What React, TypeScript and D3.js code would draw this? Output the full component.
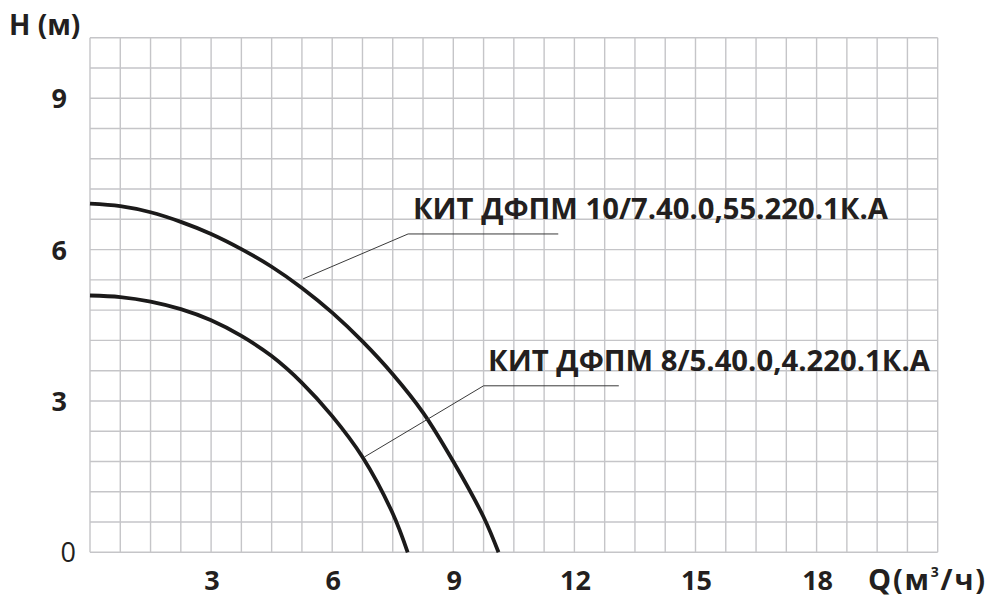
import { useEffect, useRef } from "react"
import * as d3 from "d3"

// Q (m3/h) and H (m)
const curveBigQ = [0, 0.75, 1.5, 2.25, 3, 3.75, 4.5, 5.25, 6, 6.75, 7.5, 8.25, 9, 9.75, 10.12]
const curveBigH = [6.91, 6.86, 6.74, 6.55, 6.31, 6.01, 5.66, 5.24, 4.75, 4.18, 3.53, 2.77, 1.8, 0.7, 0]
const curveSmallQ = [0, 0.75, 1.5, 2.25, 3, 3.75, 4.5, 5.25, 6, 6.75, 7.5, 7.87]
const curveSmallH = [5.09, 5.06, 4.97, 4.82, 4.6, 4.29, 3.89, 3.36, 2.7, 1.89, 0.77, 0]

const labelNames = ["КИТ ДФПМ 10/7.40.0,55.220.1К.А", "КИТ ДФПМ 8/5.40.0,4.220.1К.А"]
// leader line points: on the curve, bend, end of shelf
const leaderQ = [[5.28, 7.88, 11.6], [6.8, 9.75, 13.1]]
const leaderH = [[5.42, 6.31, 6.31], [1.89, 3.3, 3.3]]

const xTicks = [3, 6, 9, 12, 15, 18]
const yTicks = [0, 3, 6, 9]

const App = () => {
  const svgRef = useRef<SVGSVGElement>(null)

  useEffect(() => {
    const width = 991
    const height = 597
    const margin = { top: 37.7, right: 53.3, bottom: 44.7, left: 90 }

    const svg = d3.select(svgRef.current)
    svg.selectAll("*").remove()

    const x = d3.scaleLinear().domain([0, 21]).range([margin.left, width - margin.right])
    const y = d3.scaleLinear().domain([0, 10.2]).range([height - margin.bottom, margin.top])

    //grid, one cell = 0.75 on Q and 0.6 on H
    const grid = svg.append("g").attr("stroke", "#c5c5c8").attr("stroke-width", 1.4)
    grid.selectAll("line.v")
      .data(d3.range(0, 28 + 1).map(i => i * 0.75))
      .enter().append("line")
      .attr("x1", d => x(d)).attr("x2", d => x(d))
      .attr("y1", y(0)).attr("y2", y(10.2))
    grid.selectAll("line.h")
      .data(d3.range(0, 17 + 1).map(i => i * 0.6))
      .enter().append("line")
      .attr("y1", d => y(d)).attr("y2", d => y(d))
      .attr("x1", x(0)).attr("x2", x(21))

    //pump curves
    const line = d3.line<[number, number]>()
      .x(d => x(d[0]))
      .y(d => y(d[1]))
      .curve(d3.curveCatmullRom.alpha(0.5))

    const curves = [
      curveBigQ.map((q, i) => [q, curveBigH[i]] as [number, number]),
      curveSmallQ.map((q, i) => [q, curveSmallH[i]] as [number, number])
    ]
    svg.selectAll("path.curve")
      .data(curves)
      .enter().append("path")
      .attr("class", "curve")
      .attr("fill", "none")
      .attr("stroke", "#1b1a1a")
      .attr("stroke-width", 3.8)
      .attr("d", d => line(d))

    //leader lines
    const leader = d3.line<[number, number]>().x(d => x(d[0])).y(d => y(d[1]))
    svg.selectAll("path.leader")
      .data(leaderQ.map((qs, k) => qs.map((q, i) => [q, leaderH[k][i]] as [number, number])))
      .enter().append("path")
      .attr("fill", "none")
      .attr("stroke", "#3a3a3a")
      .attr("stroke-width", 1)
      .attr("d", d => leader(d))

    const font = "'Open Sans', sans-serif"

    //labels for curves, baseline on grid lines
    const labelPos = [{ q: 8.0, h: 6.6, len: 475 }, { q: 9.86, h: 3.6, len: 442 }]
    svg.selectAll("text.name")
      .data(labelNames)
      .enter().append("text")
      .attr("x", (d, i) => x(labelPos[i].q))
      .attr("y", (d, i) => y(labelPos[i].h))
      .attr("textLength", (d, i) => labelPos[i].len)
      .attr("lengthAdjust", "spacingAndGlyphs")
      .attr("font-family", font)
      .attr("font-weight", 700)
      .attr("font-size", 29)
      .attr("fill", "#231f20")
      .text(d => d)

    //x tick labels
    svg.selectAll("text.xt")
      .data(xTicks)
      .enter().append("text")
      .attr("x", d => x(d) + 1)
      .attr("y", 590)
      .attr("text-anchor", "middle")
      .attr("font-family", font)
      .attr("font-weight", 700)
      .attr("font-size", 27)
      .attr("fill", "#231f20")
      .text(d => d)

    //y tick labels, the zero is drawn in regular weight
    svg.selectAll("text.yt")
      .data(yTicks)
      .enter().append("text")
      .attr("x", d => d === 0 ? 76 : 67)
      .attr("y", d => y(d) + 10)
      .attr("text-anchor", "end")
      .attr("font-family", font)
      .attr("font-weight", d => d === 0 ? 400 : 700)
      .attr("font-size", 27)
      .attr("fill", "#231f20")
      .text(d => d)

    //axis titles
    svg.append("text")
      .attr("x", 9)
      .attr("y", 35)
      .attr("font-family", font)
      .attr("font-weight", 700)
      .attr("font-size", 28)
      .attr("fill", "#231f20")
      .text("H (м)")

    const qTitle = svg.append("text")
      .attr("x", 868)
      .attr("y", 590)
      .attr("font-family", font)
      .attr("font-weight", 700)
      .attr("font-size", 29)
      .attr("letter-spacing", 1.8)
      .attr("fill", "#231f20")
    qTitle.append("tspan").text("Q(м")
    qTitle.append("tspan").attr("font-size", 14).attr("dy", -13).text("3")
    qTitle.append("tspan").attr("dy", 13).text("/ч)")
  }, [])

  return (
    <svg
      ref={svgRef}
      width={991}
      height={597}
      style={{ position: "absolute", left: 0, top: 0, background: "#fff" }}
    />
  )
}

export default App
